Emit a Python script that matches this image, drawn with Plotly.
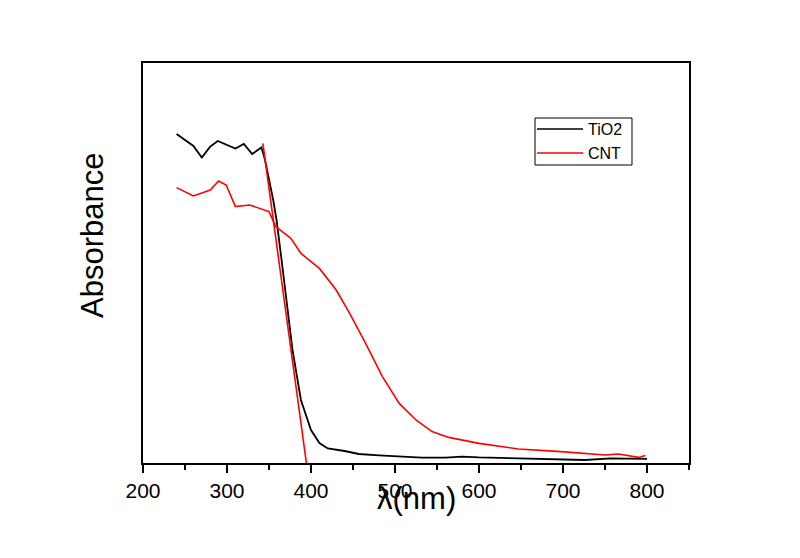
import plotly.graph_objects as go

# TiO2 spectrum (wavelength nm, absorbance a.u.)
tio2_x = [240, 260, 270, 280, 289, 310, 320, 330, 341, 345, 355, 359, 366, 378, 388, 400, 410, 420, 440, 457, 481, 493, 532, 560, 580, 600, 639, 680, 726, 757, 780, 800]
tio2_y = [1.645, 1.585, 1.527, 1.582, 1.61, 1.572, 1.595, 1.545, 1.578, 1.52, 1.315, 1.215, 0.98, 0.565, 0.315, 0.165, 0.10, 0.073, 0.06, 0.045, 0.038, 0.035, 0.027, 0.027, 0.032, 0.028, 0.023, 0.02, 0.015, 0.023, 0.022, 0.021]

# CNT spectrum
cnt_x = [240, 260, 280, 290, 299, 310, 327, 343, 350, 358, 376, 388, 410, 430, 446, 465, 485, 505, 525, 544, 564, 600, 647, 698, 750, 766, 790, 798]
cnt_y = [1.377, 1.335, 1.365, 1.41, 1.39, 1.282, 1.29, 1.265, 1.257, 1.182, 1.123, 1.048, 0.973, 0.865, 0.748, 0.598, 0.432, 0.298, 0.215, 0.157, 0.128, 0.098, 0.07, 0.057, 0.04, 0.045, 0.028, 0.037]

# Band-edge tangent line
tangent_x = [342.7, 394.5]
tangent_y = [1.598, 0.0]

x_ticks = [200, 300, 400, 500, 600, 700, 800]
series_names = ["TiO2", "CNT"]
series_colors = ["black", "#ff0000"]

fig = go.Figure()
fig.add_trace(go.Scatter(x=tio2_x, y=tio2_y, mode="lines", name=series_names[0],
                         showlegend=False, line=dict(color=series_colors[0], width=1.8)))
fig.add_trace(go.Scatter(x=cnt_x, y=cnt_y, mode="lines", name=series_names[1],
                         showlegend=False, line=dict(color=series_colors[1], width=1.6)))
fig.add_trace(go.Scatter(x=tangent_x, y=tangent_y, mode="lines", showlegend=False,
                         line=dict(color="#ff0000", width=1.6)))

# Custom legend (box, sample lines, labels)
shapes = [dict(type="rect", xref="paper", yref="paper", x0=0.718, x1=0.8956, y0=0.745, y1=0.8625,
               line=dict(color="black", width=1), fillcolor="white", layer="above")]
annotations = []
for i, (nm, col) in enumerate(zip(series_names, series_colors)):
    yy = 0.835 - i * 0.06
    shapes.append(dict(type="line", xref="paper", yref="paper", x0=0.7216, x1=0.8059, y0=yy, y1=yy,
                       line=dict(color=col, width=1.6), layer="above"))
    annotations.append(dict(text=nm, xref="paper", yref="paper", x=0.8114, y=yy,
                            xanchor="left", yanchor="middle", showarrow=False,
                            font=dict(size=16)))

annotations += [
    dict(text="λ(nm)", xref="paper", yref="paper", x=0.5, y=0, yshift=-35, xshift=0,
         xanchor="center", yanchor="middle", showarrow=False, font=dict(size=31)),
    dict(text="Absorbance", xref="paper", yref="paper", x=0, y=0.5675, xshift=-51,
         xanchor="center", yanchor="middle", showarrow=False, textangle=-90,
         font=dict(size=31)),
]

fig.update_layout(
    width=792, height=550,
    margin=dict(l=135, r=111, t=55, b=95),
    paper_bgcolor="white", plot_bgcolor="white",
    font=dict(family="Liberation Sans, Arial, sans-serif", color="black"),
    showlegend=False,
    shapes=shapes,
    annotations=annotations,
    xaxis=dict(range=[200, 850], tickvals=x_ticks, ticktext=[str(v) for v in x_ticks],
               showgrid=False, zeroline=False, showline=True, linecolor="black", linewidth=2,
               mirror=True, ticks="outside", ticklen=8, tickwidth=2, tickcolor="black",
               tickfont=dict(size=21),
               minor=dict(tickvals=[250, 350, 450, 550, 650, 750, 850], ticks="outside",
                          ticklen=5, tickwidth=2, tickcolor="black")),
    yaxis=dict(range=[0, 2], showgrid=False, zeroline=False, showline=True, linecolor="black",
               linewidth=2, mirror=True, ticks="", showticklabels=False),
)

fig.write_html("out.html")
